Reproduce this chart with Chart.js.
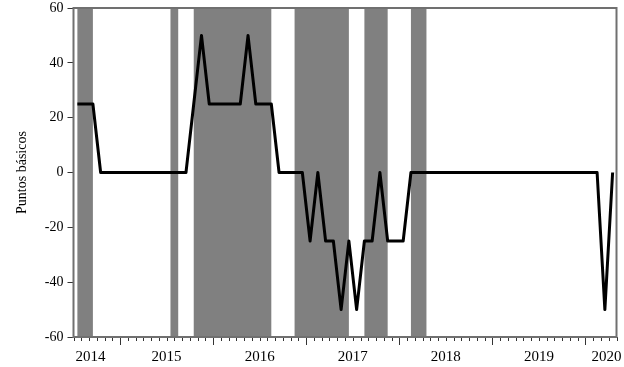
<!DOCTYPE html>
<html><head><meta charset="utf-8">
<script src="https://cdn.jsdelivr.net/npm/chart.js@4"></script>
<style>html,body{margin:0;padding:0;background:#fff}#wrap{width:624px;height:367px;position:relative}</style>
</head><body><div id="wrap"><canvas id="c"></canvas></div>
<script>
// Monthly observations (Jul 2014 - Apr 2020)
const months = [
  '2014-07','2014-08','2014-09','2014-10','2014-11','2014-12',
  '2015-01','2015-02','2015-03','2015-04','2015-05','2015-06','2015-07','2015-08','2015-09','2015-10','2015-11','2015-12',
  '2016-01','2016-02','2016-03','2016-04','2016-05','2016-06','2016-07','2016-08','2016-09','2016-10','2016-11','2016-12',
  '2017-01','2017-02','2017-03','2017-04','2017-05','2017-06','2017-07','2017-08','2017-09','2017-10','2017-11','2017-12',
  '2018-01','2018-02','2018-03','2018-04','2018-05','2018-06','2018-07','2018-08','2018-09','2018-10','2018-11','2018-12',
  '2019-01','2019-02','2019-03','2019-04','2019-05','2019-06','2019-07','2019-08','2019-09','2019-10','2019-11','2019-12',
  '2020-01','2020-02','2020-03','2020-04'
];
// Basis points
const values = [
  25,25,25,0,0,0,
  0,0,0,0,0,0,0,0,0,25,50,25,
  25,25,25,25,50,25,25,25,0,0,0,0,
  -25,0,-25,-25,-50,-25,-50,-25,-25,0,-25,-25,
  -25,0,0,0,0,0,0,0,0,0,0,0,
  0,0,0,0,0,0,0,0,0,0,0,0,
  0,0,-50,0
];
// Shaded periods (start month, end month)
const shadeStart = ['2014-07','2015-07','2015-10','2016-11','2017-08','2018-02'];
const shadeEnd   = ['2014-09','2015-08','2016-08','2017-06','2017-11','2018-04'];
const yearLabels = ['2014','2015','2016','2017','2018','2019','2020'];
const yTicks = [-60,-40,-20,0,20,40,60];

const SERIF = '"Liberation Serif","DejaVu Serif",serif';
const firstYear = +months[0].slice(0,4), firstMonth = +months[0].slice(5,7);
const N = months.length;
function janBoundary(y){ return (y-firstYear)*12 - (firstMonth-1); }
const yearPos = yearLabels.map(y => Math.min(Math.max(janBoundary(+y)+6, 2.2), N-1.3));

const shadePlugin = {
  id:'shade',
  beforeDatasetsDraw(chart){
    const {ctx, chartArea:a, scales:{x}} = chart;
    ctx.save();
    ctx.fillStyle = '#808080';
    shadeStart.forEach((s,i)=>{
      const x1 = x.getPixelForValue(months.indexOf(s)+0.5);
      const x2 = x.getPixelForValue(months.indexOf(shadeEnd[i])+0.5);
      ctx.fillRect(x1, a.top, x2-x1, a.bottom-a.top);
    });
    ctx.restore();
  },
  afterDraw(chart){
    const {ctx, chartArea:a, scales:{x}} = chart;
    ctx.save();
    ctx.strokeStyle = '#333';
    ctx.lineWidth = 1;
    for(let b=0;b<=N;b++){
      const px = Math.round(x.getPixelForValue(b))+0.5;
      const isJan = months[b] && months[b].slice(5,7)==='01';
      ctx.beginPath();
      ctx.moveTo(px, a.bottom);
      ctx.lineTo(px, a.bottom + (isJan?8:4));
      ctx.stroke();
    }
    ctx.strokeStyle = '#707070';
    ctx.lineWidth = 2;
    ctx.strokeRect(a.left, a.top, a.right-a.left, a.bottom-a.top);
    ctx.restore();
  }
};

new Chart(document.getElementById('c'), {
  type:'line',
  data:{
    datasets:[{
      data: values.map((v,i)=>({x:i+0.5, y:v})),
      borderColor:'#000', borderWidth:3, pointRadius:0, tension:0,
      borderJoinStyle:'round', fill:false
    }]
  },
  options:{
    responsive:true, maintainAspectRatio:false, animation:false,
    layout:{padding:{left:0, right:7.5, top:8, bottom:0}},
    plugins:{legend:{display:false}, tooltip:{enabled:false}},
    scales:{
      x:{
        type:'linear', min:0, max:N,
        afterBuildTicks(s){ s.ticks = yearPos.map(v=>({value:v})); },
        afterFit(s){ s.height = 30; s.paddingLeft = 0; s.paddingRight = 0; },
        grid:{drawOnChartArea:false, drawTicks:true, tickLength:8, tickColor:'rgba(0,0,0,0)'},
        border:{display:false},
        ticks:{autoSkip:false, maxRotation:0, padding:3, color:'#000',
          font:{family:SERIF, size:15},
          callback:(v,i)=>yearLabels[i]}
      },
      y:{
        min:-60, max:60,
        afterBuildTicks(s){ s.ticks = yTicks.map(v=>({value:v})); },
        afterFit(s){ s.width = 73.5; s.paddingTop = 0; s.paddingBottom = 0; },
        grid:{drawOnChartArea:false, drawTicks:true, tickLength:6, tickColor:'#333'},
        border:{display:false},
        ticks:{padding:4, color:'#000', font:{family:SERIF, size:14}},
        title:{display:true, text:'Puntos básicos', color:'#000',
          font:{family:SERIF, size:14}, padding:{top:14, bottom:0}}
      }
    }
  },
  plugins:[shadePlugin]
});
</script></body></html>
